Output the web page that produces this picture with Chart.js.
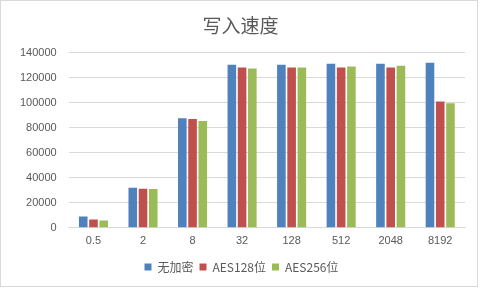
<!DOCTYPE html>
<html>
<head>
<meta charset="utf-8">
<script src="https://cdn.jsdelivr.net/npm/chart.js@4"></script>
<style>
  body { margin: 0; background: #fff; }
  #frame { position: absolute; left: 0; top: 0; width: 476px; height: 285px; border: 1px solid #d9d9d9; }
  #wrap { position: absolute; left: 0; top: 0; width: 481px; height: 289px; }
</style>
</head>
<body>
<div id="frame"></div>
<div id="wrap"><canvas id="chart" width="481" height="289"></canvas></div>
<script>
// block sizes (x axis)
const categories = ["0.5", "2", "8", "32", "128", "512", "2048", "8192"];

// write speed per series
const noEncrypt = [9000, 32000, 87700, 130500, 130500, 131300, 131300, 132100];
const aes128 = [6600, 31300, 87000, 128300, 128300, 128300, 128300, 101000];
const aes256 = [5800, 31000, 85400, 127500, 128300, 129100, 129700, 99700];

const seriesNames = ["无加密", "AES128位", "AES256位"];
const yMax = 140000;
const yStep = 20000;

// nudge title and legend a little to the right, like the original
const blockShift = {
  id: "blockShift",
  afterLayout(chart) {
    chart.legend.left += 5;
    chart.legend.right += 5;
    chart.titleBlock.left += 4;
    chart.titleBlock.right += 4;
  },
};

const ctx = document.getElementById("chart").getContext("2d");

const chart = new Chart(ctx, {
  type: "bar",
  data: {
    labels: categories,
    datasets: [
      { label: seriesNames[0], data: noEncrypt, backgroundColor: "#4f81bd" },
      { label: seriesNames[1], data: aes128, backgroundColor: "#c0504d" },
      { label: seriesNames[2], data: aes256, backgroundColor: "#9bbb59" },
    ],
  },
  options: {
    responsive: false,
    animation: false,
    devicePixelRatio: 1,
    layout: { padding: { left: 8, right: 16, top: 4, bottom: 6 } },
    datasets: {
      bar: { categoryPercentage: 0.62, barPercentage: 0.84 },
    },
    plugins: {
      title: {
        display: true,
        text: "写入速度",
        color: "#595959",
        font: { family: "'Noto Sans CJK SC', sans-serif", size: 19, weight: "normal" },
        padding: { top: 10, bottom: 16 },
      },
      legend: {
        display: true,
        position: "bottom",
        labels: {
          boxWidth: 7,
          boxHeight: 7,
          padding: 6,
          color: "#595959",
          font: { family: "'Noto Sans CJK SC', sans-serif", size: 12 },
        },
      },
      tooltip: { enabled: false },
    },
    scales: {
      x: {
        grid: { display: false, drawTicks: false },
        border: { color: "#d9d9d9" },
        ticks: {
          color: "#595959",
          font: { family: "'Liberation Sans', sans-serif", size: 11 },
          padding: 7,
        },
      },
      y: {
        min: 0,
        max: yMax,
        grid: { color: "#d9d9d9", drawTicks: false },
        border: { display: false },
        ticks: {
          stepSize: yStep,
          color: "#595959",
          font: { family: "'Liberation Sans', sans-serif", size: 11 },
          padding: 12,
          callback: (value) => String(value),
        },
      },
    },
  },
  plugins: [blockShift],
});
</script>
</body>
</html>
